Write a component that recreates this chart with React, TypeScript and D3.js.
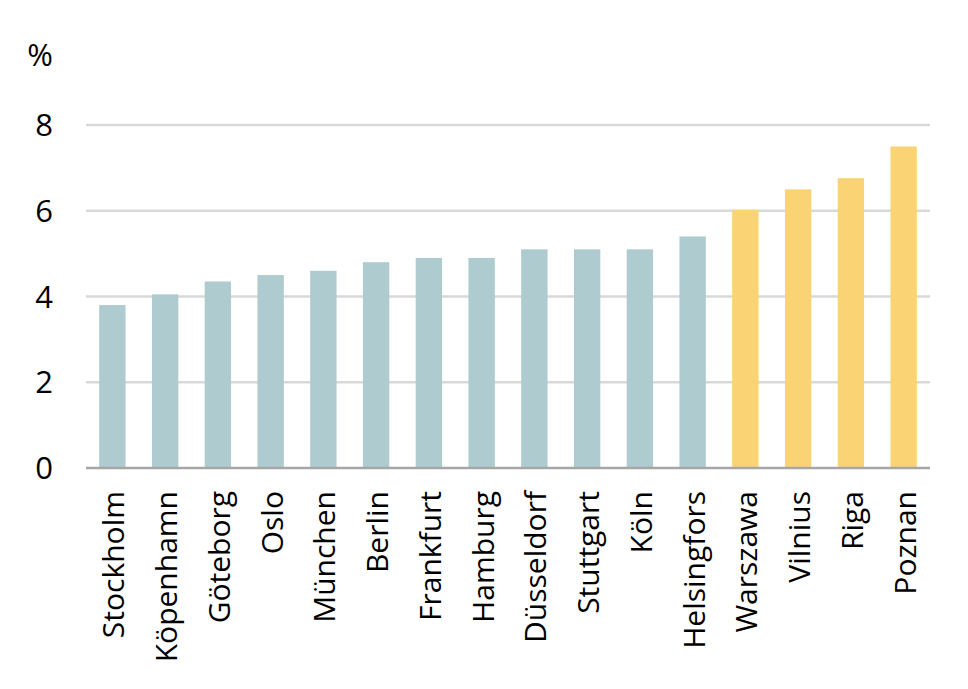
import React from "react";
import * as d3 from "d3";

const categories = ["Stockholm","Köpenhamn","Göteborg","Oslo","München","Berlin","Frankfurt","Hamburg","Düsseldorf","Stuttgart","Köln","Helsingfors","Warszawa","Vilnius","Riga","Poznan"];
const values = [3.8,4.05,4.35,4.5,4.6,4.8,4.9,4.9,5.1,5.1,5.1,5.4,6.02,6.5,6.76,7.5];
const groups = ["n","n","n","n","n","n","n","n","n","n","n","n","e","e","e","e"];
const yTicks = [0,2,4,6,8];

const W = 968, H = 689;
const left = 86, right = 930, top = 125, bottom = 468;

export default function App() {
  const x = d3.scaleBand<string>().domain(categories).range([left, right]).paddingInner(0.5).paddingOuter(0.25);
  const y = d3.scaleLinear().domain([0, 8]).range([bottom, top]);
  const color = (g: string) => (g === "e" ? "#fad375" : "#aecbcf");
  const font = "'Open Sans', 'Noto Sans', sans-serif";
  return (
    <svg width={W} height={H} style={{ position: "absolute", left: 0, top: 0, background: "#fff" }} fontFamily={font}>
      {yTicks.filter(t => t > 0).map(t => (
        <line key={t} x1={left} x2={right} y1={y(t)} y2={y(t)} stroke="#d9d9d9" strokeWidth={2.5} />
      ))}
      {yTicks.map(t => (
        <text key={"t" + t} x={53} y={y(t)} dy="0.36em" textAnchor="end" fontSize={31} fill="#000">{t}</text>
      ))}
      <text x={40} y={55} dy="0.36em" textAnchor="middle" fontSize={31} fill="#000">%</text>
      {categories.map((c, i) => (
        <rect key={c} x={x(c)} y={y(values[i])} width={x.bandwidth()} height={y(0) - y(values[i])} fill={color(groups[i])} />
      ))}
      <line x1={left} x2={right} y1={y(0)} y2={y(0)} stroke="#a6a6a6" strokeWidth={2.5} />
      {categories.map(c => {
        const cx = (x(c) as number) + x.bandwidth() / 2;
        return (
          <text key={"l" + c} transform={`translate(${cx},491) rotate(-90)`} dy="0.4em" textAnchor="end" fontSize={30} fill="#000">{c}</text>
        );
      })}
    </svg>
  );
}
